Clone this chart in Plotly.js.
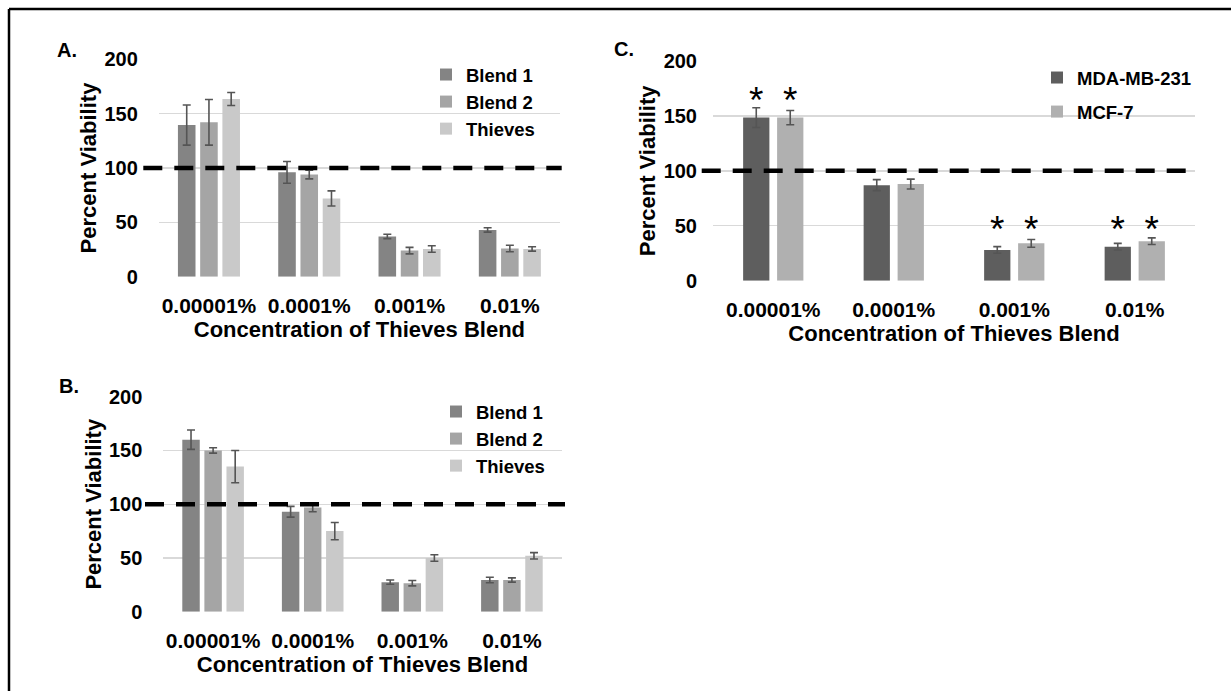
<!DOCTYPE html>
<html><head><meta charset="utf-8">
<script src="https://cdn.plot.ly/plotly-3.0.1.min.js"></script>
<style>html,body{margin:0;padding:0;background:#fff;} #chart{width:1231px;height:691px;}</style>
</head><body><div id="chart"></div>
<script>
// ---- data ----
const categories = ['0.00001%', '0.0001%', '0.001%', '0.01%'];
const seriesNamesAB = ['Blend 1', 'Blend 2', 'Thieves'];
const seriesNamesC = ['MDA-MB-231', 'MCF-7'];

const aBlend1 = [139.5, 96, 37, 43];
const aBlend1Err = [18.5, 10, 2, 2];
const aBlend2 = [142, 94, 24, 26];
const aBlend2Err = [21, 4, 3, 3];
const aThieves = [163.5, 72, 25.5, 25.5];
const aThievesErr = [6, 7, 3, 2];

const bBlend1 = [160, 93, 27.5, 29.5];
const bBlend1Err = [9, 5, 2, 2.5];
const bBlend2 = [150, 97, 26.5, 29.5];
const bBlend2Err = [2.5, 4, 2.5, 2];
const bThieves = [135, 75, 50, 52];
const bThievesErr = [15, 8, 3, 3];

const mda = [148.5, 87, 28, 31];
const mdaErr = [9, 5, 3, 3];
const mcf = [148.5, 88, 34, 36];
const mcfErr = [6.5, 4.5, 3.5, 3];
const mdaStars = ['*', '', '*', '*'];
const mcfStars = ['*', '', '*', '*'];
const starLevel = [161.5, null, 43.5, 43.5];

const threshold = 100;
const yTicks = [0, 50, 100, 150, 200];
const panelLetters = ['A.', 'B.', 'C.'];

// ---- styling helpers ----
const W = 1231, H = 691;
const px = v => v / W;
const py = v => 1 - v / H;
const FONT = 'Liberation Sans, Arial, sans-serif';
const colorsAB = ['#848484', '#a5a5a5', '#c9c9c9'];
const colorsC = ['#5e5e5e', '#b0b0b0'];
const errStyle = arr => ({type: 'data', array: arr, visible: true, color: '#555555', thickness: 1.6, width: 4});

function barTrace(name, y, err, color, xa, ya, leg, extra) {
  return Object.assign({
    type: 'bar', name: name, x: categories, y: y, error_y: errStyle(err),
    marker: {color: color, line: {width: 0}}, xaxis: xa, yaxis: ya, legend: leg,
    hoverinfo: 'skip'
  }, extra || {});
}

const data = [
  barTrace(seriesNamesAB[0], aBlend1, aBlend1Err, colorsAB[0], 'x', 'y', 'legend'),
  barTrace(seriesNamesAB[1], aBlend2, aBlend2Err, colorsAB[1], 'x', 'y', 'legend'),
  barTrace(seriesNamesAB[2], aThieves, aThievesErr, colorsAB[2], 'x', 'y', 'legend'),
  barTrace(seriesNamesAB[0], bBlend1, bBlend1Err, colorsAB[0], 'x2', 'y2', 'legend2'),
  barTrace(seriesNamesAB[1], bBlend2, bBlend2Err, colorsAB[1], 'x2', 'y2', 'legend2'),
  barTrace(seriesNamesAB[2], bThieves, bThievesErr, colorsAB[2], 'x2', 'y2', 'legend2'),
  barTrace(seriesNamesC[0], mda, mdaErr, colorsC[0], 'x3', 'y3', 'legend3', {width: 0.218, offset: -0.25, legendgroup: 'c1'}),
  barTrace(seriesNamesC[1], mcf, mcfErr, colorsC[1], 'x3', 'y3', 'legend3', {width: 0.218, offset: 0.032, legendgroup: 'c2'}),
  {type: 'scatter', mode: 'text', x: categories, y: starLevel, text: mdaStars, orientation: 'v',
   offsetgroup: 's1', textposition: 'middle center', showlegend: false, hoverinfo: 'skip',
   textfont: {family: FONT, size: 37, color: '#000'}, xaxis: 'x3', yaxis: 'y3', cliponaxis: false},
  {type: 'scatter', mode: 'text', x: categories, y: starLevel, text: mcfStars, orientation: 'v',
   offsetgroup: 's2', textposition: 'middle center', showlegend: false, hoverinfo: 'skip',
   textfont: {family: FONT, size: 37, color: '#000'}, xaxis: 'x3', yaxis: 'y3', cliponaxis: false}
];

function xAxis(domain, anchor) {
  return {
    domain: domain, anchor: anchor, type: 'category', showgrid: false, zeroline: false, showline: false,
    ticks: 'outside', ticklen: 10, tickcolor: 'rgba(0,0,0,0)',
    tickfont: {family: FONT, size: 21, weight: 700, color: '#000'},
    title: {text: 'Concentration of Thieves Blend', font: {family: FONT, size: 22, weight: 700, color: '#000'}, standoff: 2},
    fixedrange: true
  };
}
function yAxis(domain, anchor, tl) {
  return {
    domain: domain, anchor: anchor, range: [0, 200], tickvals: yTicks, showgrid: true,
    gridcolor: '#d9d9d9', gridwidth: 1.3, zeroline: false, showline: false,
    ticks: 'outside', ticklen: tl, tickcolor: 'rgba(0,0,0,0)',
    tickfont: {family: FONT, size: 20, weight: 700, color: '#000'},
    title: {text: 'Percent Viability', font: {family: FONT, size: 22, weight: 700, color: '#000'}, standoff: 1},
    fixedrange: true
  };
}
function legendAt(x, y, gap) {
  return {x: px(x), y: py(y), xanchor: 'left', yanchor: 'top', bgcolor: 'rgba(0,0,0,0)', borderwidth: 0,
    font: {family: FONT, size: 18.5, weight: 700, color: '#000'}, tracegroupgap: gap || 0, itemclick: false, itemdoubleclick: false};
}
function dashLine(x0, x1, yref) {
  return {type: 'line', xref: 'paper', yref: yref, x0: px(x0), x1: px(x1), y0: threshold, y1: threshold,
    line: {color: '#000', width: 4.5, dash: '19px,12px'}};
}
function letter(t, x, y) {
  return {text: t, xref: 'paper', yref: 'paper', x: px(x), y: py(y), xanchor: 'center', yanchor: 'middle',
    showarrow: false, font: {family: FONT, size: 20, weight: 700, color: '#000'}};
}

const layout = {
  width: W, height: H, margin: {l: 0, r: 0, t: 0, b: 0},
  paper_bgcolor: '#fff', plot_bgcolor: 'rgba(0,0,0,0)',
  barmode: 'group', bargap: 0.335, bargroupgap: 0.21,
  scattermode: 'group', scattergap: 0.436,
  showlegend: true,
  xaxis: xAxis([px(158.8), px(560)], 'y'),
  yaxis: yAxis([py(276.7), py(59.3)], 'x', 16),
  xaxis2: xAxis([px(163.3), px(561.7)], 'y2'),
  yaxis2: yAxis([py(611.7), py(396.7)], 'x2', 16),
  xaxis3: xAxis([px(713), px(1195)], 'y3'),
  yaxis3: yAxis([py(280.7), py(61)], 'x3', 11),
  legend: legendAt(426, 56),
  legend2: legendAt(436, 393),
  legend3: legendAt(1037, 59, 7),
  shapes: [
    dashLine(143.3, 561.7, 'y'),
    dashLine(145, 565, 'y2'),
    dashLine(701.7, 1195, 'y3'),
    {type: 'line', xref: 'paper', yref: 'paper', x0: px(9), x1: 1, y0: py(9), y1: py(9), line: {color: '#000', width: 2.5}},
    {type: 'line', xref: 'paper', yref: 'paper', x0: px(9), x1: px(9), y0: py(9), y1: 0, line: {color: '#000', width: 2.5}}
  ],
  annotations: [letter(panelLetters[0], 67, 50), letter(panelLetters[1], 69, 386), letter(panelLetters[2], 624, 49)]
};

Plotly.newPlot('chart', data, layout, {displayModeBar: false, staticPlot: true});
</script>
</body></html>
